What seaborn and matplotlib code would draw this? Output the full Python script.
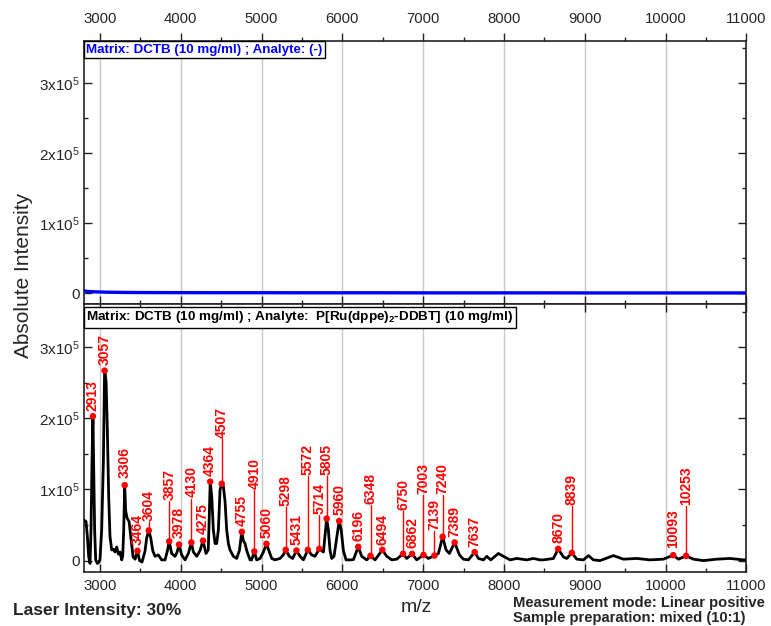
import numpy as np
import pandas as pd
import matplotlib
matplotlib.use("Agg")
import matplotlib.pyplot as plt
import seaborn as sns
from matplotlib.ticker import MultipleLocator, FuncFormatter

# ---------------- data ----------------
blank_mz = [2800, 2850, 2950, 3100, 3300, 3600, 4000, 4500, 5000, 5500, 6000,
            6500, 7000, 7500, 8000, 8500, 9000, 9500, 10000, 10500, 11000]
blank_int = [3500, 2500, 2000, 1500, 1200, 1000, 900, 800, 800, 700, 700,
             700, 600, 600, 600, 600, 500, 500, 500, 500, 500]

spec_mz = [2800, 2827, 2844, 2860, 2877, 2889, 2901, 2913, 2922, 2934, 2947, 2968, 2980,
           3000, 3021, 3042, 3057, 3066, 3076, 3091, 3108, 3124, 3145, 3166, 3186, 3207,
           3228, 3248, 3269, 3281, 3293, 3306, 3318, 3335, 3360, 3385, 3410, 3435, 3464,
           3490, 3520, 3557, 3578, 3604, 3628, 3653, 3681, 3722, 3763, 3805, 3833, 3857,
           3887, 3928, 3955, 3978, 4011, 4053, 4094, 4130, 4156, 4197, 4238, 4275, 4312,
           4340, 4352, 4364, 4383, 4403, 4424, 4444, 4465, 4486, 4507, 4527, 4548, 4568,
           4589, 4609, 4651, 4692, 4725, 4755, 4774, 4795, 4816, 4857, 4877, 4910, 4939,
           4981, 5022, 5060, 5096, 5125, 5166, 5228, 5269, 5298, 5343, 5384, 5431, 5476,
           5517, 5572, 5620, 5661, 5714, 5765, 5805, 5826, 5847, 5868, 5896, 5929, 5960,
           5985, 6012, 6045, 6094, 6136, 6196, 6239, 6301, 6348, 6404, 6494, 6549, 6610,
           6672, 6750, 6796, 6862, 6920, 7003, 7064, 7139, 7188, 7240, 7283, 7324, 7389,
           7448, 7497, 7559, 7637, 7683, 7745, 7786, 7836, 7930, 7992, 8075, 8157, 8281,
           8364, 8446, 8487, 8611, 8670, 8735, 8776, 8839, 8900, 8982, 9044, 9106, 9188,
           9353, 9477, 9642, 9807, 9972, 10093, 10158, 10253, 10343, 10467, 10632, 10797,
           10962, 11000]
spec_int = [57000, 55000, 34000, 6000, -4000, 43000, 138000, 203000, 138000, 43000, 1000, -4000, -3000,
            1000, 43000, 138000, 267000, 262000, 251000, 185000, 90000, 34000, 15000, 16000, 12000, 19000,
            9000, 12000, 1000, 6000, 40000, 106000, 70000, 60000, 55000, 30000, 5000, 2000, 13700,
            0, -2000, 13000, 32000, 42000, 32000, 14000, 6000, 8000, 1000, 1000, 13000, 27000,
            10000, 6000, 12000, 22600, 8000, 1000, 10000, 25500, 12000, 6000, 14000, 28000, 10000,
            15000, 60000, 111000, 90000, 43000, 24000, 24000, 43000, 100000, 108000, 104000, 83000, 43000,
            24000, 15000, 6000, 3000, 14000, 40500, 28000, 24000, 14000, 1000, 1000, 12800, 1000,
            3000, 12000, 23600, 12000, 3000, 1000, 3000, 8000, 15000, 6000, 3000, 14000, 6000,
            1000, 15000, 8000, 6000, 16500, 12000, 59000, 43000, 14000, 3000, 6000, 32000, 55700,
            43000, 14000, 1000, 1000, 1300, 19400, 6000, 1000, 6600, 1000, 15000, 6000, 1000,
            2000, 9500, 3000, 9500, 1000, 8000, 3000, 7000, 10000, 33500, 15000, 10000, 25500,
            8000, 2000, 1000, 12000, 3000, 1000, 6000, 1000, 10000, 6000, 1000, 3000, 1000,
            3000, 1000, 1000, 3000, 16500, 5000, 3000, 11000, 2000, 1000, 7000, 1000, 0,
            7000, 2000, 3000, 1000, 2000, 7600, 2000, 6600, 2000, 0, 2000, 3000,
            1000, 1000]

peak_mz = [2913, 3057, 3306, 3464, 3604, 3857, 3978, 4130, 4275, 4364, 4507, 4755,
           4910, 5060, 5298, 5431, 5572, 5714, 5805, 5960, 6196, 6348, 6494, 6750,
           6862, 7003, 7139, 7240, 7389, 7637, 8670, 8839, 10093, 10253]
peak_int = [203000, 267000, 106000, 13700, 42400, 27000, 22600, 25500, 28000, 111000, 108000, 40500,
            12800, 23600, 15100, 14200, 15100, 16500, 59000, 55700, 19400, 6600, 15100, 9500,
            9500, 8000, 7100, 33500, 25500, 11900, 16500, 10900, 7600, 6600]
# heights at which each peak label starts (label placement)
label_y = [210700, 275400, 115600, 22200, 55200, 84900, 32100, 88700, 37300, 118800, 172100, 48100,
           101000, 31700, 76400, 22200, 120200, 66100, 120200, 63600, 26900, 80200, 22200, 70700,
           17500, 94300, 42400, 94300, 33100, 19800, 24600, 77800, 17500, 78800]

top_label = "Matrix: DCTB (10 mg/ml) ; Analyte: (-)"
bottom_label = r"Matrix: DCTB (10 mg/ml) ; Analyte:  P[Ru(dppe)$_\mathbf{2}$-DDBT] (10 mg/ml)"

# ---------------- style ----------------
sns.set_style("white")
plt.rcParams['font.family'] = ['Liberation Sans', 'DejaVu Sans']
plt.rcParams['mathtext.fontset'] = 'custom'
plt.rcParams['mathtext.rm'] = 'Liberation Sans'
plt.rcParams['mathtext.it'] = 'Liberation Sans:italic'
plt.rcParams['mathtext.bf'] = 'Liberation Sans:bold'

fig = plt.figure(figsize=(7.71, 6.26), dpi=100)
left, width = 0.1087, 0.8595
ax_top = fig.add_axes([left, 0.5136, width, 0.4209])
ax_bot = fig.add_axes([left, 0.0863, width, 0.4273])

blank_df = pd.DataFrame({"mz": blank_mz, "I": blank_int})
spec_df = pd.DataFrame({"mz": spec_mz, "I": spec_int})
peak_df = pd.DataFrame({"mz": peak_mz, "I": peak_int})

sns.lineplot(data=blank_df, x="mz", y="I", ax=ax_top, color="#0000ff", lw=2.4,
             estimator=None, sort=False, zorder=3)
sns.lineplot(data=spec_df, x="mz", y="I", ax=ax_bot, color="black", lw=2.0,
             estimator=None, sort=False, zorder=3)
sns.scatterplot(data=peak_df, x="mz", y="I", ax=ax_bot, color="#ff0000", s=22,
                edgecolor="none", zorder=5)

for mz, pk, ly in zip(peak_mz, peak_int, label_y):
    if ly - pk > 12000:
        ax_bot.plot([mz, mz], [pk, ly - 1500], color="#ff0000", lw=1.0, zorder=4)
    ax_bot.text(mz, ly, str(mz), rotation=90, ha="center", va="bottom",
                color="#ff0000", fontweight="bold", fontsize=10, zorder=6)

def yfmt(v, pos):
    if abs(v) < 1:
        return "0"
    return r"%dx10$^5$" % round(v / 1e5)

for ax in (ax_top, ax_bot):
    ax.set_xlim(2800, 11000)
    ax.set_ylim(-16000, 360000)
    ax.set_xlabel("")
    ax.set_ylabel("")
    ax.xaxis.set_major_locator(MultipleLocator(1000))
    ax.xaxis.set_minor_locator(MultipleLocator(500))
    ax.yaxis.set_major_locator(MultipleLocator(100000))
    ax.yaxis.set_minor_locator(MultipleLocator(50000))
    ax.yaxis.set_major_formatter(FuncFormatter(yfmt))
    ax.grid(axis="x", which="major", color="#c8c8c8", lw=1.0)
    ax.grid(axis="y", visible=False)
    ax.set_axisbelow(True)
    for s in ax.spines.values():
        s.set_color("#222222")
        s.set_linewidth(1.2)
    ax.tick_params(axis="y", which="both", direction="in", left=True, right=True,
                   labelsize=11, pad=3, color="#222222")
    ax.tick_params(axis="y", which="major", length=5.5, width=1.0)
    ax.tick_params(axis="y", which="minor", length=3, width=1.0)

ax_top.tick_params(axis="x", which="both", direction="in", bottom=True, top=False,
                   labelbottom=False, color="#222222")
ax_top.tick_params(axis="x", which="major", length=5.5, width=1.0)
ax_top.tick_params(axis="x", which="minor", length=3, width=1.0)
sec = ax_top.secondary_xaxis("top")
sec.xaxis.set_major_locator(MultipleLocator(1000))
sec.xaxis.set_minor_locator(MultipleLocator(500))
sec.tick_params(axis="x", which="both", direction="out", labelsize=10.7, pad=5, color="#222222")
sec.tick_params(axis="x", which="major", length=5.5, width=1.0)
sec.tick_params(axis="x", which="minor", length=3, width=1.0)
sec.spines["top"].set_visible(False)

ax_bot.tick_params(axis="x", which="both", direction="in", bottom=True, top=True,
                   labelbottom=True, labelsize=10.7, pad=5, color="#222222")
ax_bot.tick_params(axis="x", which="major", length=5.5, width=1.0)
ax_bot.tick_params(axis="x", which="minor", length=3, width=1.0)

box = dict(boxstyle="square,pad=0.18", fc="white", ec="black", lw=1.0)
ax_top.annotate(top_label, xy=(0, 1), xycoords="axes fraction", xytext=(1.8, -1.8),
                textcoords="offset points", ha="left", va="top", fontsize=9.6,
                fontweight="bold", color="#0000ff", bbox=box, zorder=10)
ax_bot.annotate(bottom_label, xy=(0, 1), xycoords="axes fraction", xytext=(1.8, -3.5),
                textcoords="offset points", ha="left", va="top", fontsize=9.7,
                fontweight="bold", color="black", bbox=box, zorder=10)

fig.text(24 / 771, 1 - 275 / 626, "Absolute Intensity", rotation=90, ha="center",
         va="center", fontsize=15)
fig.text(416 / 771, 1 - 607 / 626, "m/z", ha="center", va="center", fontsize=14)
fig.text(13 / 771, 1 - 610 / 626, "Laser Intensity: 30%", ha="left", va="center",
         fontsize=12.5, fontweight="bold")
fig.text(513 / 771, 1 - 603 / 626, "Measurement mode: Linear positive", ha="left",
         va="center", fontsize=10.6, fontweight="bold")
fig.text(513 / 771, 1 - 618 / 626, "Sample preparation: mixed (10:1)", ha="left",
         va="center", fontsize=10.6, fontweight="bold")

fig.savefig("out.png", dpi=100)
